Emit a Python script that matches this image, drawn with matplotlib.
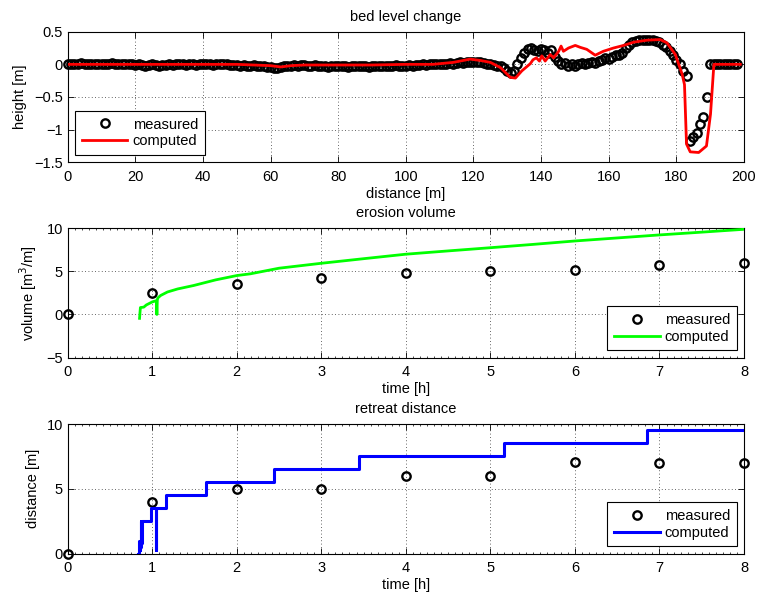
# Bed level change / erosion volume / retreat distance - measured vs computed
import numpy as np
import matplotlib
matplotlib.use('Agg')
import matplotlib.pyplot as plt
from matplotlib.ticker import MultipleLocator

plt.rcParams['font.family'] = ['Liberation Sans', 'DejaVu Sans']
plt.rcParams['font.size'] = 10.5

# --- bed level, measured (1 m spacing, 0..198 m)
bed_dist_meas = np.arange(0, 199, 1.0)
bed_h_meas = [
    0.01, 0.01, 0.0, 0.01, 0.02, 0.01, 0.01, 0.0, 0.01, 0.01,
    0.0, 0.01, 0.01, 0.02, 0.01, 0.0, 0.01, 0.01, 0.0, 0.0,
    -0.01, 0.0, -0.01, -0.02, -0.01, 0.0, -0.01, -0.02, -0.01, -0.01,
    0.0, -0.01, 0.0, 0.01, 0.0, -0.01, 0.0, 0.0, -0.01, 0.0,
    0.0, 0.01, 0.0, -0.01, 0.0, 0.0, 0.01, 0.0, -0.01, -0.01,
    -0.01, -0.02, -0.01, -0.02, -0.02, -0.01, -0.02, -0.03, -0.03, -0.04,
    -0.04, -0.05, -0.05, -0.04, -0.03, -0.02, -0.02, -0.01, -0.02, -0.01,
    -0.01, -0.02, -0.02, -0.01, -0.02, -0.03, -0.03, -0.04, -0.03, -0.03,
    -0.03, -0.02, -0.03, -0.04, -0.03, -0.03, -0.02, -0.03, -0.03, -0.04,
    -0.03, -0.03, -0.02, -0.03, -0.03, -0.02, -0.02, -0.01, -0.02, -0.02,
    -0.02, -0.01, -0.02, -0.01, -0.01, 0.0, -0.01, 0.0, 0.0, 0.01,
    0.0, 0.01, 0.0, 0.02, 0.01, 0.02, 0.03, 0.02, 0.03, 0.04,
    0.03, 0.04, 0.03, 0.02, 0.01, 0.0, -0.01, -0.02, -0.03, -0.05,
    -0.1, -0.14, -0.1, 0.0, 0.1, 0.17, 0.23, 0.25, 0.22, 0.2,
    0.24, 0.22, 0.18, 0.22, 0.12, 0.05, 0.0, 0.02, -0.02, 0.0,
    -0.02, 0.0, 0.02, 0.0, 0.02, 0.04, 0.02, 0.05, 0.06, 0.1,
    0.08, 0.12, 0.14, 0.15, 0.18, 0.25, 0.3, 0.34, 0.36, 0.37,
    0.37, 0.38, 0.37, 0.37, 0.36, 0.34, 0.3, 0.26, 0.2, 0.14,
    0.07, 0.0, -0.1, -0.18, -1.18, -1.12, -1.05, -0.92, -0.8, -0.5,
    0.0, 0.0, 0.0, 0.0, 0.0, 0.0, 0.0, 0.0, 0.0,
]

# --- bed level, computed
bed_dist_comp = [0, 10, 20, 30, 40, 50, 55, 60, 63, 66, 70, 80, 90, 100, 108, 114, 119,
                 122, 125, 128, 130.9, 132.4, 134.3, 136.8, 137.6, 138.6, 139.5, 140.2,
                 141.2, 142.7, 143.7, 145.2, 145.9, 146.6, 148.1, 150.1, 151.6, 153.5,
                 156.0, 158.4, 161.4, 164.4, 167.4, 171.3, 175.2, 177.2, 179.7, 181.7,
                 182.4, 183.0, 184.1, 186.6, 188.9, 190.1, 191.1, 198.9]
bed_h_comp = [0.0, 0.0, 0.0, 0.0, 0.0, 0.0, -0.01, -0.02, -0.04, -0.02, -0.01, -0.01, -0.01,
              0.0, 0.0, 0.03, 0.08, 0.06, 0.03, -0.05, -0.2, -0.21, -0.1, 0.01, 0.07, 0.1,
              0.05, 0.13, 0.05, 0.15, 0.1, 0.2, 0.28, 0.2, 0.25, 0.29, 0.26, 0.23, 0.14,
              0.2, 0.25, 0.29, 0.34, 0.37, 0.38, 0.33, 0.15, -0.15, -0.31, -1.22, -1.34,
              -1.35, -1.25, -0.76, 0.0, 0.0]

# --- erosion volume
hours_meas = [0, 1, 2, 3, 4, 5, 6, 7, 8]
vol_meas = [0.0, 2.54, 3.54, 4.19, 4.77, 5.0, 5.11, 5.73, 5.96]
hours_vol_comp = [0.85, 0.855, 0.86, 0.9, 0.93, 1.0, 1.05, 1.055, 1.06, 1.065, 1.1, 1.18,
                  1.3, 1.49, 1.75, 2.0, 2.16, 2.5, 3.0, 3.5, 4.0, 4.5, 5.0, 5.5, 6.0, 6.5,
                  7.0, 7.5, 8.0]
vol_comp = [-0.45, 0.2, 0.8, 0.85, 1.1, 1.45, 1.6, 0.0, 1.65, 1.9, 2.2, 2.6,
            2.95, 3.35, 4.0, 4.5, 4.7, 5.35, 5.92, 6.45, 6.97, 7.35, 7.72, 8.1, 8.5, 8.85,
            9.2, 9.52, 9.85]

# --- retreat distance
retr_meas = [0.0, 4.0, 5.0, 5.0, 6.0, 6.0, 7.1, 7.0, 7.0]
hours_retr_comp = [0.83, 0.845, 0.85, 0.855, 0.86, 0.865, 0.87, 0.875, 0.98, 1.04, 1.05,
                   1.06, 1.16, 1.64, 2.44, 3.44, 5.16, 6.85, 8.0]
retr_comp = [0.0, 1.0, 0.3, 1.0, 0.5, 2.5, 0.8, 2.5, 3.5, 0.3, 3.5,
             3.5, 4.5, 5.5, 6.5, 7.5, 8.5, 9.5, 9.5]

W, H = 757, 601
fig = plt.figure(figsize=(W / 100, H / 100), dpi=100)

def px_axes(top, bottom, left=67.7, right=744.0):
    return fig.add_axes([left / W, 1 - bottom / H, (right - left) / W, (bottom - top) / H])

ax1 = px_axes(31.7, 162.3)
ax2 = px_axes(228.0, 357.7)
ax3 = px_axes(424.0, 553.7)

meas_kw = dict(linestyle='none', marker='o', markersize=6, markerfacecolor='none',
               markeredgecolor='black', markeredgewidth=1.7, clip_on=False, zorder=3)

def style(ax):
    ax.grid(True, linestyle=(0, (1, 3)), linewidth=0.6, color='0.2')
    ax.tick_params(direction='in', length=4, width=0.6, top=True, right=True)
    ax.tick_params(axis='y', pad=3.5)
    ax.tick_params(axis='x', pad=5.5)
    for s in ax.spines.values():
        s.set_linewidth(0.8)

def legend(ax, loc):
    leg = ax.legend(loc=loc, numpoints=1, handlelength=3.15, handletextpad=0.35,
                    borderpad=0.45, labelspacing=0.2, borderaxespad=0.5,
                    fancybox=False, framealpha=1, edgecolor='black', fontsize=10.5)
    leg.get_frame().set_linewidth(0.8)

# bed level
ax1.plot(bed_dist_meas, bed_h_meas, label='measured', **meas_kw)
ax1.plot(bed_dist_comp, bed_h_comp, color='red', linewidth=2, label='computed', zorder=4)
ax1.set_xlim(0, 200)
ax1.set_ylim(-1.5, 0.5)
ax1.set_xticks(np.arange(0, 201, 20))
ax1.set_yticks([-1.5, -1, -0.5, 0, 0.5])
ax1.set_yticklabels(['\u22121.5', '\u22121', '\u22120.5', '0', '0.5'])
ax1.set_xlabel('distance [m]', labelpad=2)
ax1.set_ylabel('height [m]', labelpad=5)
ax1.set_title('bed level change', fontsize=10.5, pad=8)
style(ax1)
legend(ax1, 'lower left')

# erosion volume
ax2.plot(hours_meas, vol_meas, label='measured', **meas_kw)
ax2.plot(hours_vol_comp, vol_comp, color='#00ff00', linewidth=2, label='computed', zorder=4)
ax2.set_xlim(0, 8)
ax2.set_ylim(-5, 10)
ax2.set_xticks(range(0, 9))
ax2.set_yticks([-5, 0, 5, 10])
ax2.set_yticklabels(['\u22125', '0', '5', '10'])
ax2.set_xlabel('time [h]', labelpad=2)
ax2.set_ylabel('volume [m$^3$/m]', labelpad=5)
ax2.set_title('erosion volume', fontsize=10.5, pad=8)
style(ax2)
ax2.xaxis.set_minor_locator(MultipleLocator(1 / 12))
ax2.tick_params(axis='x', which='minor', direction='in', length=1.5, width=0.5, top=True)
legend(ax2, 'lower right')

# retreat distance
ax3.plot(hours_meas, retr_meas, label='measured', **meas_kw)
ax3.plot(hours_retr_comp, retr_comp, color='blue', linewidth=2.2, drawstyle='steps-post',
         label='computed', zorder=4)
ax3.set_xlim(0, 8)
ax3.set_ylim(0, 10)
ax3.set_xticks(range(0, 9))
ax3.set_yticks([0, 5, 10])
ax3.set_xlabel('time [h]', labelpad=2)
ax3.set_ylabel('distance [m]', labelpad=5)
ax3.set_title('retreat distance', fontsize=10.5, pad=8)
style(ax3)
ax3.xaxis.set_minor_locator(MultipleLocator(1 / 12))
ax3.tick_params(axis='x', which='minor', direction='in', length=1.5, width=0.5, top=True)
legend(ax3, 'lower right')

fig.savefig('out.png', dpi=100)
